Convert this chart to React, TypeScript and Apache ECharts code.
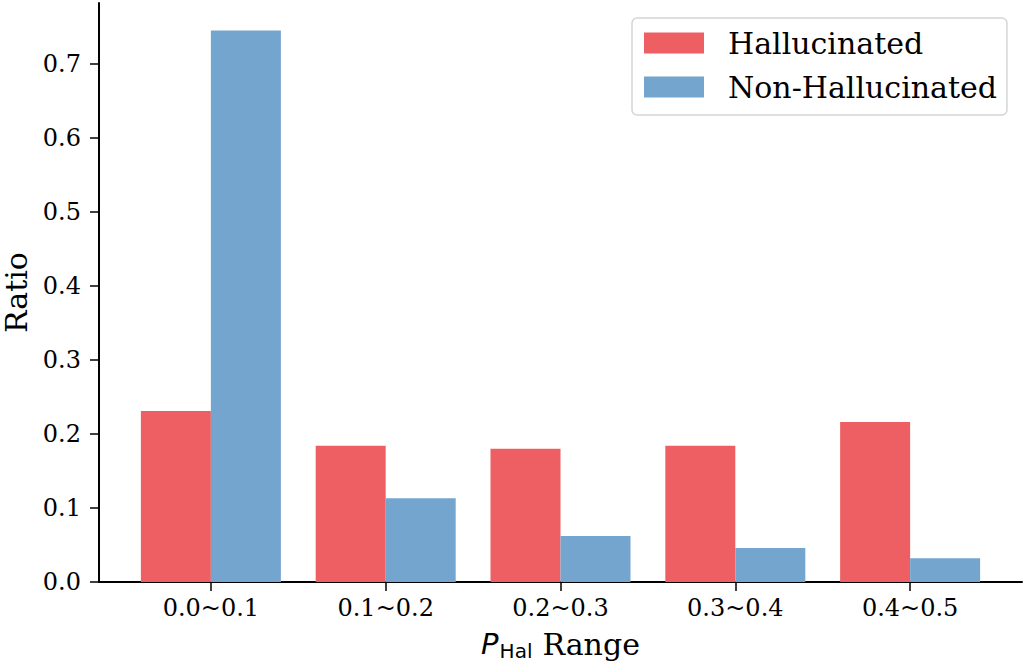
import React, { useEffect, useRef } from "react";
import * as echarts from "echarts";

const categories = ["0.0~0.1", "0.1~0.2", "0.2~0.3", "0.3~0.4", "0.4~0.5"];
const hallucinated = [0.231, 0.184, 0.18, 0.184, 0.216];
const nonHallucinated = [0.745, 0.113, 0.062, 0.046, 0.032];
const yTicks = [0, 0.1, 0.2, 0.3, 0.4, 0.5, 0.6, 0.7];

const RED = "#ED5F63";
const BLUE = "#74A5CE";

export default function App() {
  const ref = useRef<HTMLDivElement>(null);
  useEffect(() => {
    if (!ref.current) return;
    const chart = echarts.init(ref.current, undefined, { renderer: "svg" });
    const xIdx = categories.map((_, i) => i);
    chart.setOption({
      animation: false,
      backgroundColor: "#ffffff",
      grid: { left: 99, right: 4, top: 3, bottom: 85, containLabel: false, outerBoundsMode: "none" },
      legend: {
        left: 632,
        top: 18,
        orient: "vertical",
        icon: "rect",
        itemWidth: 60,
        itemHeight: 21,
        itemGap: 14,
        padding: [10, 10, 13, 12],
        borderColor: "#d5d5d5",
        borderWidth: 1.5,
        borderRadius: 5,
        textStyle: {
          fontFamily: "DejaVu Serif",
          fontSize: 30,
          color: "#000",
          padding: [0, 0, 0, 19],
        },
        data: ["Hallucinated", "Non-Hallucinated"],
      },
      xAxis: {
        type: "value",
        min: -0.64,
        max: 4.64,
        name: "{p|P}{s|Hal}{r|Range}",
        nameLocation: "middle",
        nameGap: 45,
        nameTextStyle: {
          rich: {
            p: { fontFamily: "DejaVu Sans", fontStyle: "italic", fontSize: 29, color: "#000" },
            s: { fontFamily: "DejaVu Sans", fontSize: 20, color: "#000", padding: [14, 0, 0, 1] },
            r: { fontFamily: "DejaVu Serif", fontSize: 30, color: "#000", padding: [0, 0, 0, 10] },
          },
        },
        splitLine: { show: false },
        axisLine: { show: true, onZero: false, lineStyle: { color: "#000", width: 2 } },
        axisTick: { show: true, customValues: xIdx, length: 9, lineStyle: { color: "#000", width: 1.5 } },
        axisLabel: {
          customValues: xIdx,
          margin: 14,
          fontFamily: "DejaVu Serif",
          fontSize: 24,
          color: "#000",
          formatter: (v: number) => categories[Math.round(v)] ?? "",
        },
      },
      yAxis: {
        type: "value",
        min: 0,
        max: 0.782,
        name: "Ratio",
        nameLocation: "middle",
        nameGap: 68,
        nameTextStyle: { fontFamily: "DejaVu Serif", fontSize: 30, color: "#000" },
        splitLine: { show: false },
        axisLine: { show: true, onZero: false, lineStyle: { color: "#000", width: 2 } },
        axisTick: { show: true, customValues: yTicks, length: 9, lineStyle: { color: "#000", width: 1.5 } },
        axisLabel: {
          customValues: yTicks,
          margin: 18,
          fontFamily: "DejaVu Serif",
          fontSize: 24,
          color: "#000",
          formatter: (v: number) => v.toFixed(1),
        },
      },
      series: [
        {
          name: "Hallucinated",
          type: "bar",
          barWidth: 70,
          barGap: "0%",
          itemStyle: { color: RED },
          data: hallucinated.map((v, i) => [i, v]),
        },
        {
          name: "Non-Hallucinated",
          type: "bar",
          barWidth: 70,
          barGap: "0%",
          itemStyle: { color: BLUE },
          data: nonHallucinated.map((v, i) => [i, v]),
        },
      ],
    });
    return () => chart.dispose();
  }, []);
  return <div ref={ref} style={{ width: 1026, height: 667, position: "absolute", left: 0, top: 0 }} />;
}
